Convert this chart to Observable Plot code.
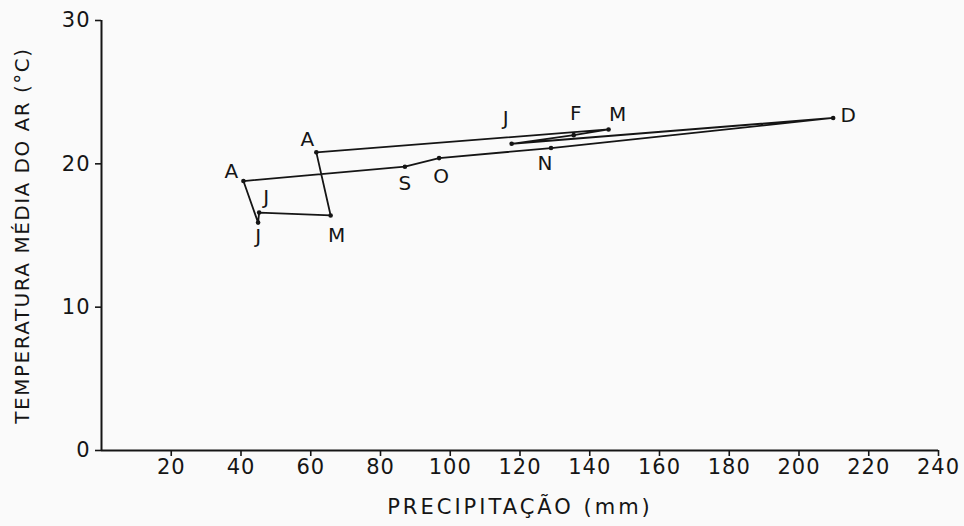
<!DOCTYPE html>
<html>
<head>
<meta charset="utf-8">
<script src="https://cdn.jsdelivr.net/npm/d3@7"></script>
<script src="https://cdn.jsdelivr.net/npm/@observablehq/plot@0.6"></script>
<style>
  html, body { margin: 0; padding: 0; background: #fafafa; }
  #chart { width: 964px; height: 526px; }
</style>
</head>
<body>
<div id="chart"></div>
<script>
// Month labels (Jan..Dec)
const monthLabels = ["J", "F", "M", "A", "M", "J", "J", "A", "S", "O", "N", "D"];
// Mean monthly precipitation (mm)
const precipitation = [117.6, 135.4, 145.4, 61.6, 65.7, 45.2, 44.9, 40.7, 87.0, 96.8, 128.9, 209.8];
// Mean monthly air temperature (°C)
const temperature = [21.4, 22.0, 22.4, 20.8, 16.4, 16.6, 15.9, 18.8, 19.8, 20.4, 21.1, 23.2];
// Axis ticks
const xTicks = [20, 40, 60, 80, 100, 120, 140, 160, 180, 200, 220, 240];
const yTicks = [0, 10, 20, 30];
const xTitle = "PRECIPITAÇÃO (mm)";
const yTitle = "TEMPERATURA MÉDIA DO AR (°C)";

// Label placement (style only): offset of each month label from its point
const labelOffsets = [[-6, -25], [2, -22], [9, -15], [-9, -13], [6, 20], [7, -15], [0, 14], [-12, -9], [0, 17], [2, 18], [-6, 16], [15, -2]];

const months = monthLabels.map((m, i) => ({i, label: m, precip: precipitation[i], temp: temperature[i]}));
const loop = [...months, months[0]];

const font = "DejaVu Sans";
const ink = "#151515";
const labelMarks = months.map((d) =>
  Plot.text([d], {x: "precip", y: "temp", text: "label", dx: labelOffsets[d.i][0], dy: labelOffsets[d.i][1], fontSize: 20, fill: ink})
);

const chart = Plot.plot({
  width: 964,
  height: 526,
  marginLeft: 101,
  marginRight: 26,
  marginTop: 20,
  marginBottom: 76,
  style: {fontFamily: font, fontSize: "21px", background: "#fafafa", color: ink},
  x: {domain: [0, 240], label: null},
  y: {domain: [0, 30], label: null},
  marks: [
    Plot.ruleY([0], {stroke: ink, strokeWidth: 2}),
    Plot.ruleX([0], {stroke: ink, strokeWidth: 2}),
    Plot.axisX({ticks: xTicks, tickSize: 6, tickPadding: 3, fontSize: 21, label: null, stroke: ink, strokeWidth: 1.6}),
    Plot.axisY({ticks: yTicks, tickSize: 6, tickPadding: 5, fontSize: 21, label: null, stroke: ink, strokeWidth: 1.6}),
    Plot.line(loop, {x: "precip", y: "temp", stroke: ink, strokeWidth: 1.8}),
    Plot.dot(months, {x: "precip", y: "temp", r: 2.3, fill: ink}),
    ...labelMarks,
    Plot.text([xTitle], {frameAnchor: "bottom", dy: 63, fontSize: 21, fill: ink}),
    Plot.text([yTitle], {frameAnchor: "left", textAnchor: "middle", dx: -79, rotate: -90, fontSize: 20, fill: ink})
  ]
});
chart.querySelectorAll("text").forEach(t => {
  const s = t.textContent;
  if (s === xTitle) t.setAttribute("letter-spacing", "3px");
  if (s === yTitle) t.setAttribute("letter-spacing", "1.5px");
  if (/^\d+$/.test(s)) t.setAttribute("letter-spacing", "1px");
});
document.getElementById("chart").appendChild(chart);
</script>
</body>
</html>
